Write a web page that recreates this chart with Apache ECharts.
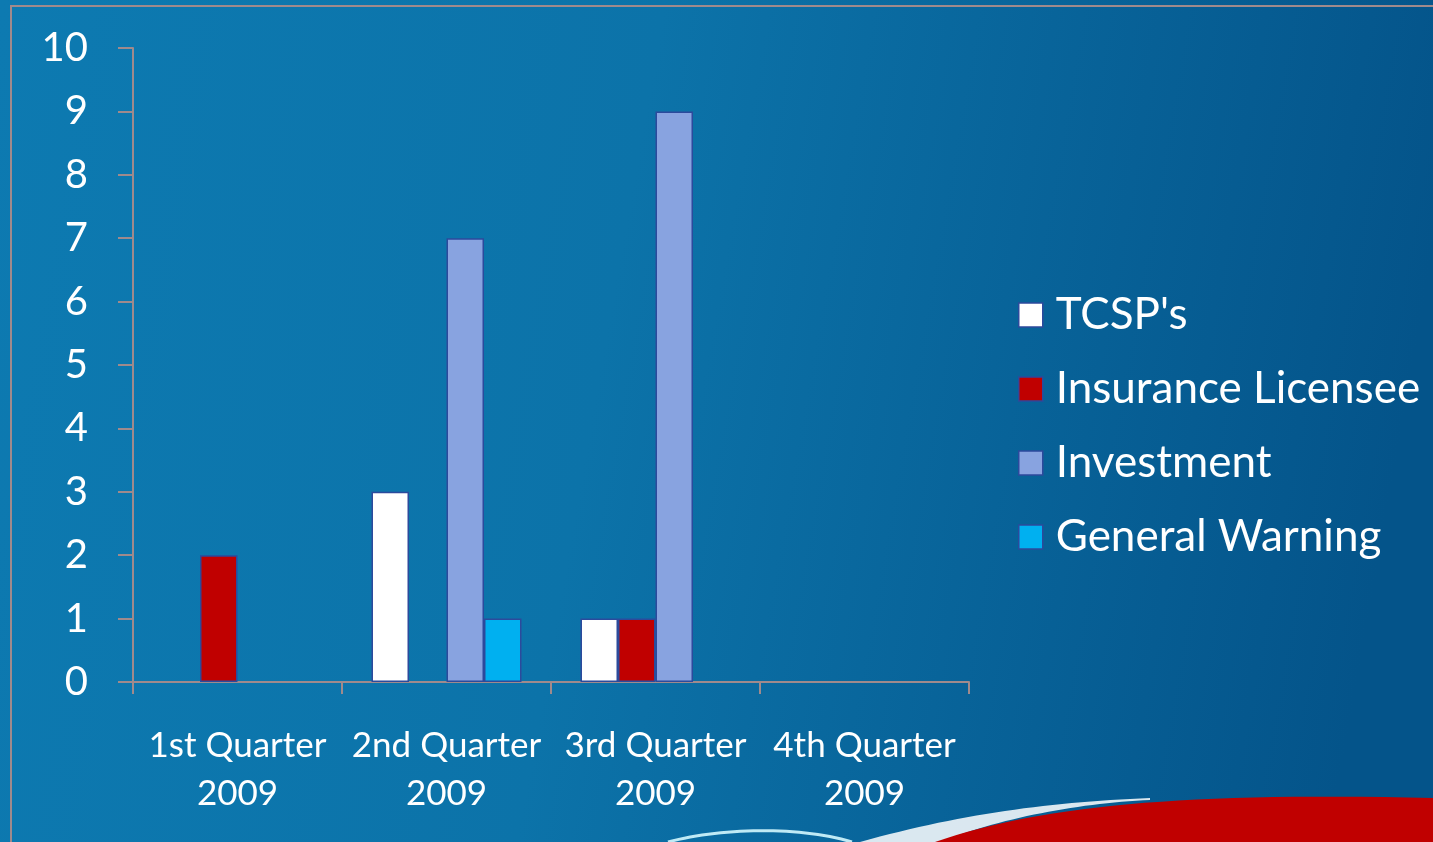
<!DOCTYPE html>
<html>
<head>
<meta charset="utf-8">
<script src="https://cdn.jsdelivr.net/npm/echarts@6/dist/echarts.min.js"></script>
<style>
  html, body { margin: 0; padding: 0; }
  #chart { width: 1433px; height: 842px; }
</style>
</head>
<body>
<div id="chart"></div>
<script>
// quarters and counts per type
var quarters = ['1st Quarter\n2009', '2nd Quarter\n2009', '3rd Quarter\n2009', '4th Quarter\n2009'];
var tcsp = [0, 3, 1, 0];
var insurance = [2, 0, 1, 0];
var investment = [0, 7, 9, 0];
var generalWarning = [0, 1, 0, 0];
var yTicks = [0, 1, 2, 3, 4, 5, 6, 7, 8, 9, 10];

var font = 'Lato, "Open Sans", sans-serif';
var axisColor = '#a08a8c';

function bars(name, values, color) {
    return {
        name: name,
        type: 'bar',
        barWidth: 37.5,
        barGap: '0%',
        data: values.map(function (v) { return v === 0 ? null : v; }),
        itemStyle: { color: color, borderColor: '#2c4a9c', borderWidth: 1.5 }
    };
}

// sample a cubic curve into points (background decoration only)
function curve(p0, p1, p2, p3) {
    var pts = [];
    for (var i = 0; i <= 30; i++) {
        var t = i / 30, u = 1 - t;
        pts.push([
            u * u * u * p0[0] + 3 * u * u * t * p1[0] + 3 * u * t * t * p2[0] + t * t * t * p3[0],
            u * u * u * p0[1] + 3 * u * u * t * p1[1] + 3 * u * t * t * p2[1] + t * t * t * p3[1]
        ]);
    }
    return pts;
}

var redTop = curve([935, 842], [1040, 806], [1180, 792], [1433, 798]);
var whiteTop = curve([860, 842], [960, 814], [1050, 802], [1150, 798]);
var whiteBottom = curve([1150, 800], [1080, 803], [1000, 818], [940, 842]);

var chart = echarts.init(document.getElementById('chart'));
chart.setOption({
    backgroundColor: {
        type: 'linear', x: 0, y: 0, x2: 1, y2: 0.3,
        colorStops: [
            { offset: 0, color: '#0d7ab1' },
            { offset: 0.45, color: '#0c73a9' },
            { offset: 1, color: '#04548a' }
        ]
    },
    graphic: [
        {
            type: 'polyline', z: -1, silent: true,
            shape: { points: [[11, 842], [11, 6], [1433, 6]] },
            style: { stroke: axisColor, lineWidth: 2, fill: null }
        },
        {
            type: 'polygon', z: -1, silent: true,
            shape: { points: whiteTop.concat(whiteBottom) },
            style: { fill: '#ffffff', opacity: 0.85 }
        },
        {
            type: 'polygon', z: -1, silent: true,
            shape: { points: redTop.concat([[1433, 842]]) },
            style: { fill: '#c00000' }
        },
        {
            type: 'polyline', z: -1, silent: true,
            shape: { points: curve([668, 842], [720, 828], [800, 826], [852, 842]) },
            style: { stroke: '#bfeaf5', lineWidth: 3, fill: null }
        }
    ],
    grid: { left: 133, top: 48, width: 836, height: 634 },
    legend: {
        orient: 'vertical',
        left: 1013,
        top: 286,
        itemWidth: 24,
        itemHeight: 24,
        itemGap: 26,
        icon: 'rect',
        data: ['TCSP\'s', 'Insurance Licensee', 'Investment', 'General Warning'],
        textStyle: {
            color: '#ffffff', fontFamily: font, fontSize: 44, lineHeight: 48,
            padding: [0, 0, 0, 8]
        },
        itemStyle: { borderColor: '#2c4a9c', borderWidth: 1.5 }
    },
    xAxis: {
        type: 'category',
        data: quarters,
        axisLine: { lineStyle: { color: axisColor, width: 2 } },
        axisTick: { show: true, interval: 0, length: 12, lineStyle: { color: axisColor, width: 2 } },
        axisLabel: {
            interval: 0,
            color: '#ffffff', fontFamily: font, fontSize: 35, lineHeight: 48,
            margin: 40
        }
    },
    yAxis: {
        type: 'value',
        min: yTicks[0],
        max: yTicks[yTicks.length - 1],
        interval: 1,
        splitLine: { show: false },
        axisLine: { show: true, lineStyle: { color: axisColor, width: 2 } },
        axisTick: { show: true, length: 15, lineStyle: { color: axisColor, width: 2 } },
        axisLabel: { color: '#ffffff', fontFamily: font, fontSize: 40, margin: 45 }
    },
    series: [
        bars('TCSP\'s', tcsp, '#ffffff'),
        bars('Insurance Licensee', insurance, '#c00000'),
        bars('Investment', investment, '#88a3e0'),
        bars('General Warning', generalWarning, '#00b0f0')
    ]
});
</script>
</body>
</html>
